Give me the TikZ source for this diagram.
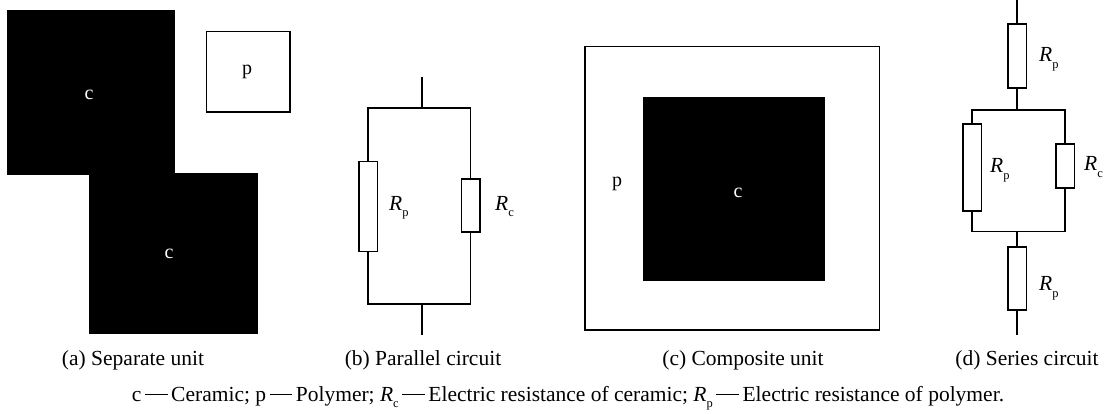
\documentclass[tikz,border=0pt]{standalone}
\usepackage{fontspec}
\setmainfont{Liberation Serif}
\newcommand{\Rsb}[1]{\textit{R}\raisebox{-0.3em}{\scalebox{0.58}{#1}}}
\newcommand{\dsh}{\,\rule[0.27em]{1.05em}{0.05em}\,}
\begin{document}
\begin{tikzpicture}[x=1pt,y=-1pt,
  lw/.style={line width=1.5pt,black},
  blk/.style={fill=black,draw=none},
  res/.style={draw=black,line width=1.5pt,fill=white,minimum width=#1,inner sep=0pt,rectangle},
  lab/.style={inner sep=0pt,font=\fontsize{20pt}{22pt}\selectfont},
  captxt/.style={inner sep=0pt,font=\fontsize{21.5pt}{24pt}\selectfont},
  sym/.style={inner sep=0pt,font=\fontsize{21.5pt}{24pt}\selectfont}]
\useasboundingbox (0,0) rectangle (1113,414);
\fill[white] (0,0) rectangle (1113,414);
% (a)
\node[blk,minimum width=168pt,minimum height=165pt,inner sep=0pt] (c1) at (91,92.5) {};
\node[blk,minimum width=169pt,minimum height=161pt,inner sep=0pt] (c2) at (173.5,253.5) {};
\node[lab,text=white] (c1t) at (89,95) {c};
\node[lab,text=white] (c2t) at (169,254) {c};
\node[draw=black,line width=1.5pt,minimum width=83.5pt,minimum height=80.5pt,inner sep=0pt] (pbox) at (248,72) {};
\node[lab] (pt) at (247,72) {p};
% (b)
\coordinate (bt) at (422,77);
\coordinate (bt2) at (422,108);
\coordinate (bl) at (368,108);
\coordinate (br) at (470.5,108);
\coordinate (bbl) at (368,304);
\coordinate (bbr) at (470.5,304);
\coordinate (bb2) at (422,304);
\coordinate (bb) at (422,335);
\draw[lw] (bt) -- (bt2);
\draw[lw] (bl) -- (br) -- (bbr) -- (bbl) -- cycle;
\draw[lw] (bb2) -- (bb);
\node[res=18.5pt,minimum height=90pt] (rp1) at (368,206.3) {};
\node[res=18.5pt,minimum height=53pt] (rc1) at (470.5,205.7) {};
\node[sym,anchor=base west] (rp1t) at (389,210.5) {\Rsb{p}};
\node[sym,anchor=base west] (rc1t) at (495,210.5) {\Rsb{c}};
% (c)
\node[draw=black,line width=1.5pt,minimum width=294.5pt,minimum height=283.3pt,inner sep=0pt] (outer) at (732.2,188.4) {};
\node[blk,minimum width=182pt,minimum height=183.7pt,inner sep=0pt] (inner) at (734,189.2) {};
\node[lab] (pc) at (617,184) {p};
\node[lab,text=white] (cc) at (738,193) {c};
% (d)
\coordinate (dt) at (1017,0);
\coordinate (dm1) at (1017,110);
\coordinate (dl) at (972,110);
\coordinate (dr) at (1065,110);
\coordinate (dbl) at (972,231.7);
\coordinate (dbr) at (1065,231.7);
\coordinate (dm2) at (1017,231.7);
\coordinate (db) at (1017,335);
\draw[lw] (dt) -- (dm1);
\draw[lw] (dl) -- (dr) -- (dbr) -- (dbl) -- cycle;
\draw[lw] (dm2) -- (db);
\node[res=18.5pt,minimum height=64pt] (rd1) at (1017,56) {};
\node[res=18.5pt,minimum height=87pt] (rd2) at (972,167.4) {};
\node[res=18.5pt,minimum height=44pt] (rd3) at (1065,166) {};
\node[res=18.5pt,minimum height=63pt] (rd4) at (1017,278.7) {};
\node[sym,anchor=base west] (l1) at (1039,62) {\Rsb{p}};
\node[sym,anchor=base west] (l2) at (990,172.7) {\Rsb{p}};
\node[sym,anchor=base west] (l3) at (1084,170.7) {\Rsb{c}};
\node[sym,anchor=base west] (l4) at (1039,290.7) {\Rsb{p}};
% captions
\node[captxt] (ca) at (133,360) {(a) Separate unit};
\node[captxt] (cb) at (423,360) {(b) Parallel circuit};
\node[captxt] (cc2) at (743,360) {(c) Composite unit};
\node[captxt] (cd) at (1027,360) {(d) Series circuit};
\node[captxt] (leg) at (568,398) {c\dsh Ceramic; p\dsh Polymer; \Rsb{c}\dsh Electric resistance of ceramic; \Rsb{p}\dsh Electric resistance of polymer.};
\end{tikzpicture}
\end{document}
